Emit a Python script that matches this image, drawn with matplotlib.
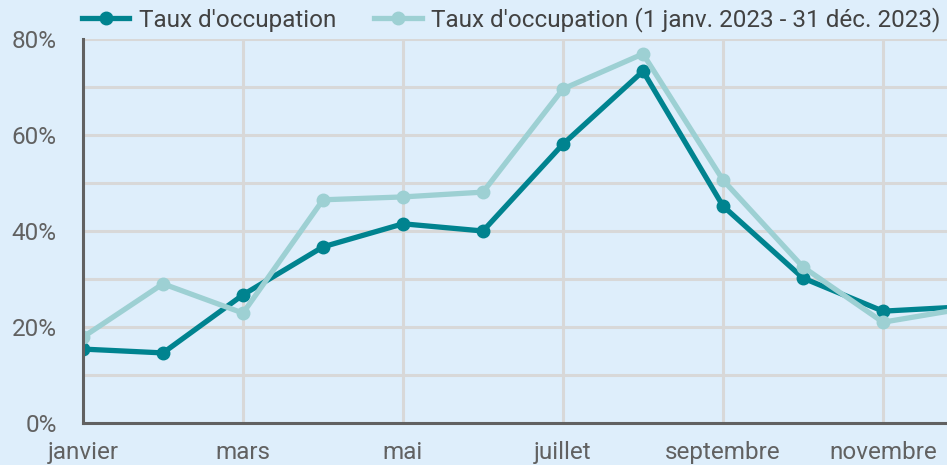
import matplotlib.pyplot as plt
import matplotlib.ticker as mticker

plt.rcParams['font.family'] = ['Roboto', 'DejaVu Sans']

months = ["janvier", "février", "mars", "avril", "mai", "juin", "juillet",
          "août", "septembre", "octobre", "novembre", "décembre"]
occupation = [15.4, 14.6, 26.7, 36.7, 41.5, 40.0, 58.1, 73.3, 45.2, 30.2, 23.3, 24.2]
occupation_2023 = [17.9, 29.0, 22.9, 46.5, 47.1, 48.1, 69.6, 76.9, 50.6, 32.5, 21.0, 23.8]

bg = "#deeefb"
dark = "#00838f"
light = "#9dd0d3"

fig = plt.figure(figsize=(9.47, 4.65), dpi=100, facecolor=bg)
ax = fig.add_axes([83 / 947, 42 / 465, 1 - 83 / 947, 384 / 465])
ax.set_facecolor(bg)

x = range(len(months))
ax.plot(x, occupation, color=dark, lw=3.8, marker="o", ms=9,
        label="Taux d'occupation", zorder=3, solid_joinstyle="round")
ax.plot(x, occupation_2023, color=light, lw=3.8, marker="o", ms=9,
        label="Taux d'occupation (1 janv. 2023 - 31 déc. 2023)", zorder=4,
        solid_joinstyle="round")

ax.set_xlim(0, 10.8)
ax.set_ylim(0, 80)
ax.set_xticks(range(0, 12, 2))
ax.set_xticklabels(months[0::2])
ax.set_yticks(range(0, 81, 20))
ax.yaxis.set_major_formatter(mticker.FuncFormatter(lambda v, p: f"{v:.0f}%"))
ax.yaxis.set_minor_locator(mticker.MultipleLocator(10))

ax.grid(True, which="both", axis="y", color="#d8d8d8", lw=2.2, zorder=0)
ax.grid(True, which="major", axis="x", color="#d8d8d8", lw=2.2, zorder=0)
ax.set_axisbelow(True)

ax.tick_params(which="both", length=0, labelsize=17.5, colors="#616161")
ax.tick_params(axis="y", pad=19)
ax.tick_params(axis="x", pad=13)

for s in ("top", "right"):
    ax.spines[s].set_visible(False)
for s in ("left", "bottom"):
    ax.spines[s].set_color("#616161")
    ax.spines[s].set_linewidth(2.2)
    ax.spines[s].set_zorder(5)

leg = fig.legend(loc="center left", bbox_to_anchor=(82 / 947, 1 - 20 / 465),
                 ncol=2, frameon=False, fontsize=17.5, handlelength=1.95,
                 handletextpad=0.4, columnspacing=1.55, borderpad=0,
                 borderaxespad=0)
for t in leg.get_texts():
    t.set_color("#424242")

fig.savefig("out.png", dpi=100, facecolor=bg)
